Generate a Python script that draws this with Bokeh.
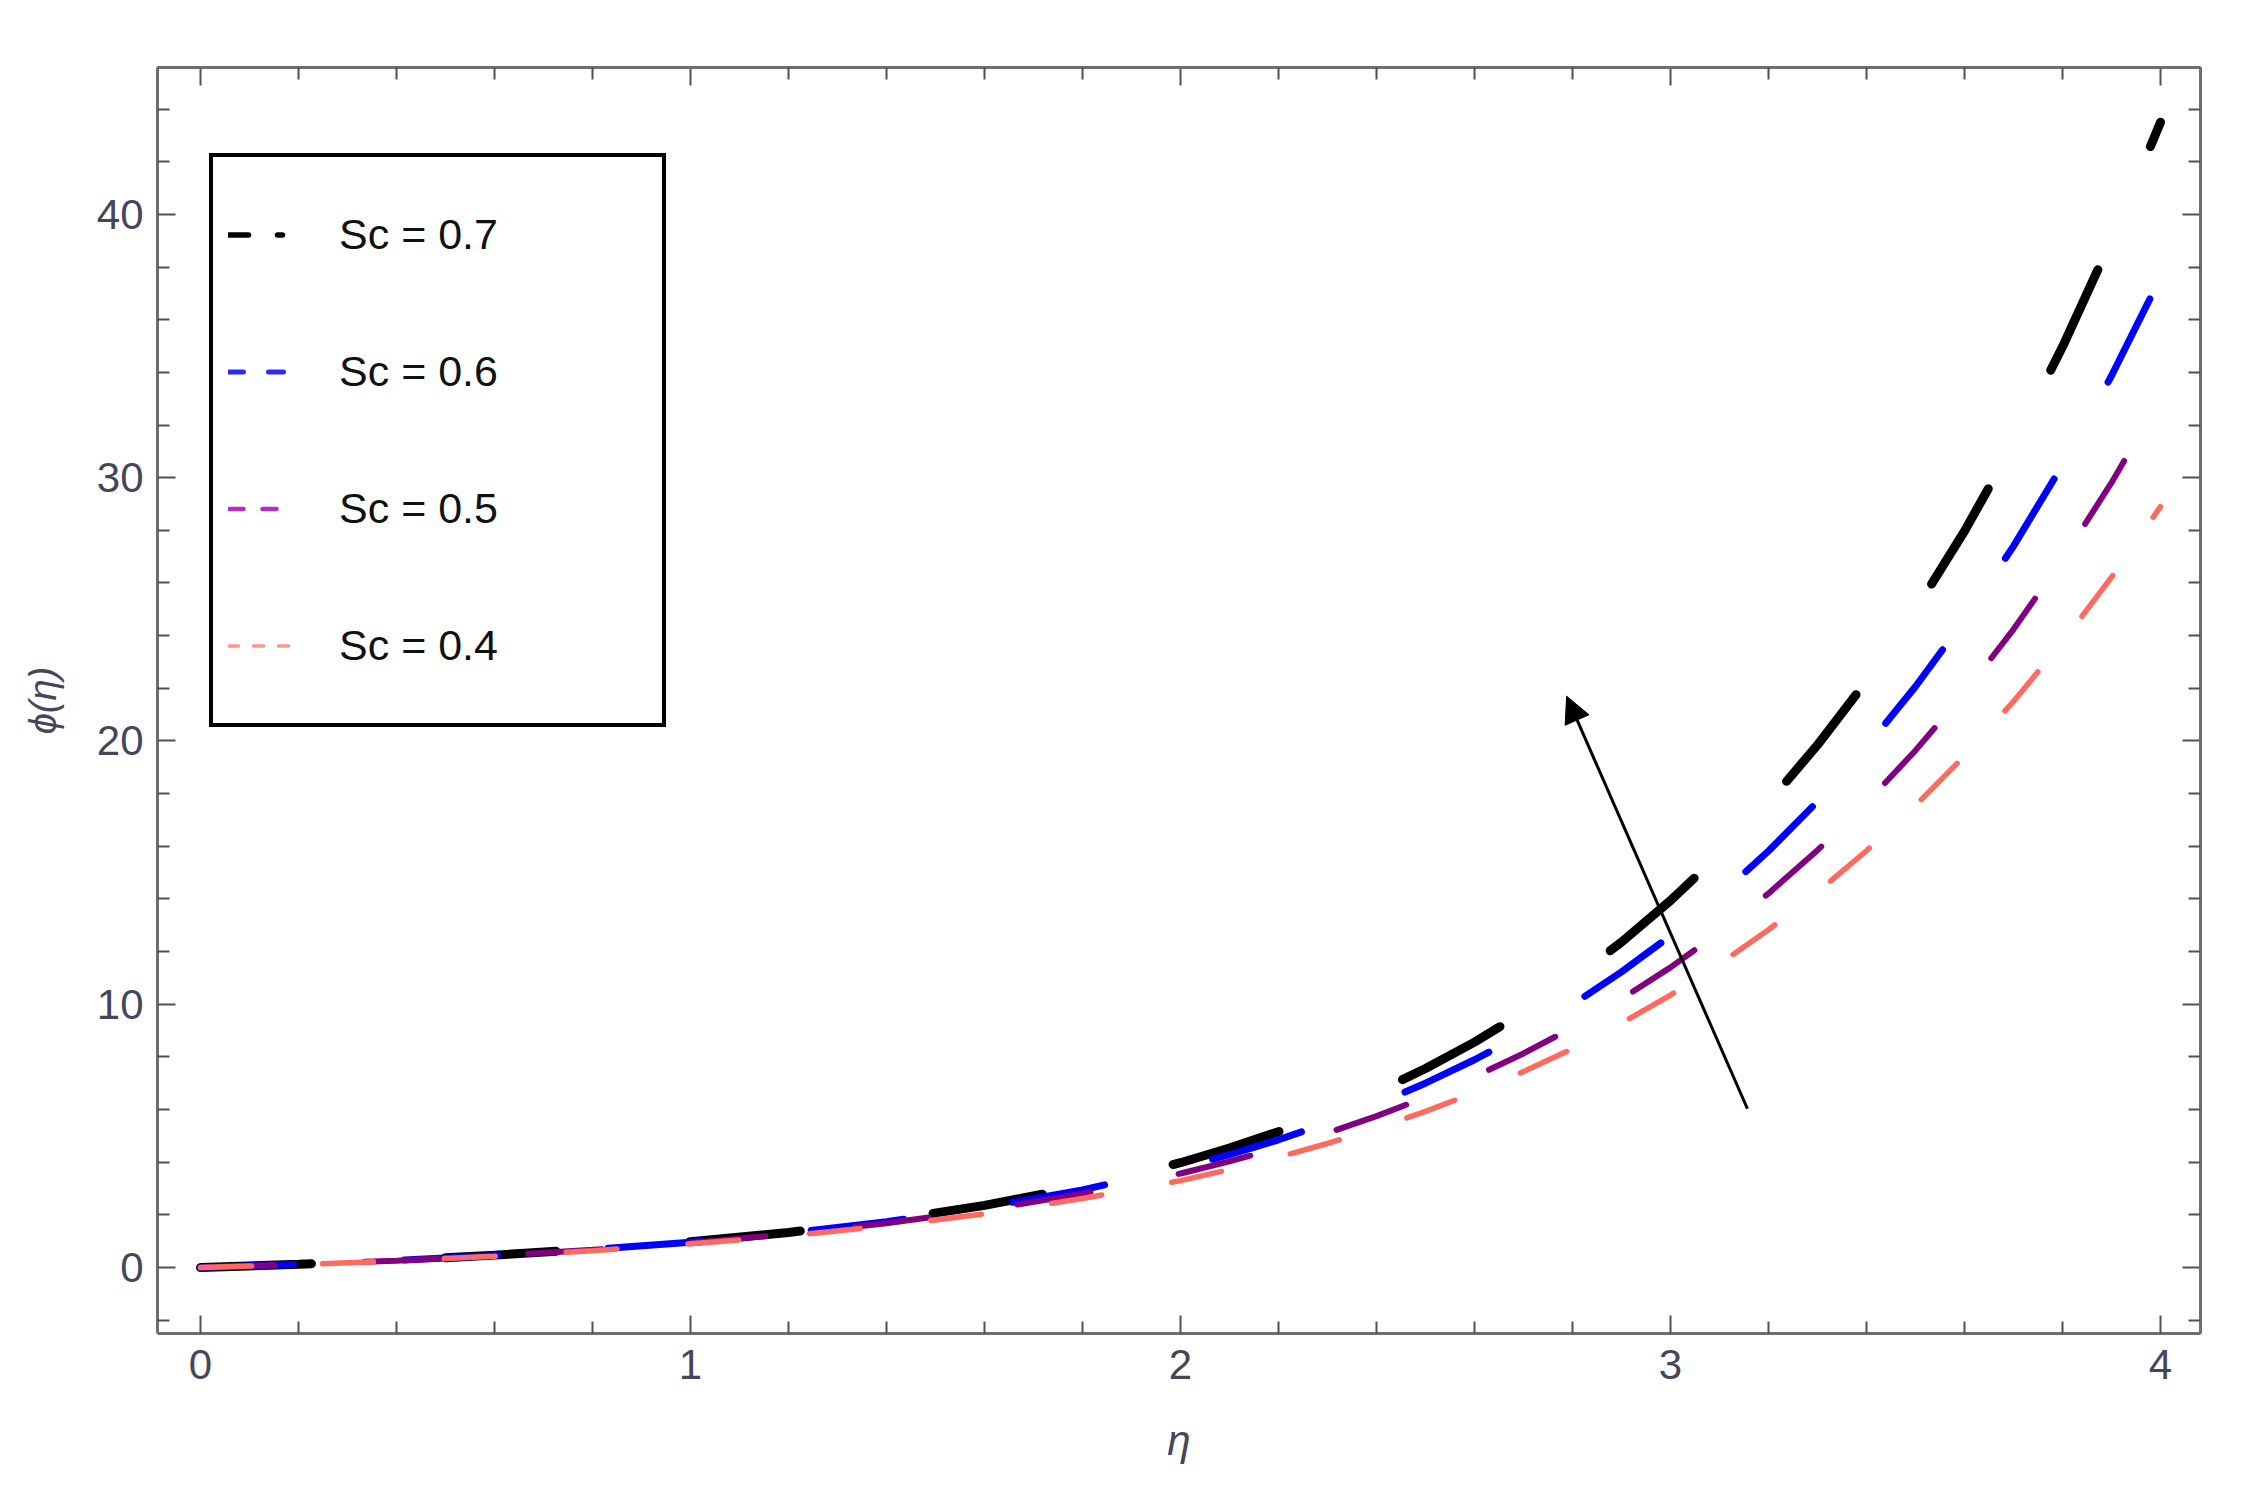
from bokeh.plotting import figure
from bokeh.models import Range1d, LinearAxis, FixedTicker, Legend, LegendItem, Arrow, NormalHead
from bokeh.embed import file_html
from bokeh.resources import INLINE

# ---- data ----
eta = [0.0, 0.2, 0.4, 0.6, 0.8, 1.0, 1.2, 1.4, 1.6, 1.8,
       2.0, 2.1, 2.2, 2.3, 2.4, 2.5, 2.6, 2.7, 2.8, 2.9,
       3.0, 3.1, 3.2, 3.3, 3.4, 3.5, 3.6, 3.7, 3.8, 3.9, 4.0]
phi_sc07 = [0.0, 0.12, 0.27, 0.47, 0.70, 0.98, 1.33, 1.78, 2.36, 3.08,
            3.98, 4.54, 5.16, 5.87, 6.66, 7.56, 8.56, 9.69, 10.95, 12.36,
            13.94, 15.70, 17.66, 19.85, 22.28, 24.98, 27.97, 31.29, 34.97, 39.03, 43.50]
phi_sc06 = [0.0, 0.12, 0.27, 0.46, 0.69, 0.96, 1.31, 1.74, 2.28, 2.95,
            3.78, 4.29, 4.85, 5.49, 6.20, 7.00, 7.89, 8.89, 9.99, 11.23,
            12.60, 14.13, 15.82, 17.70, 19.77, 22.07, 24.60, 27.40, 30.48, 33.87, 37.60]
phi_sc05 = [0.0, 0.12, 0.26, 0.45, 0.67, 0.93, 1.27, 1.68, 2.19, 2.80,
            3.57, 4.03, 4.54, 5.11, 5.75, 6.46, 7.25, 8.13, 9.11, 10.20,
            11.40, 12.74, 14.21, 15.85, 17.65, 19.64, 21.83, 24.24, 26.90, 29.81, 33.01]
phi_sc04 = [0.0, 0.11, 0.25, 0.43, 0.64, 0.90, 1.20, 1.58, 2.04, 2.62,
            3.30, 3.72, 4.19, 4.71, 5.29, 5.93, 6.64, 7.44, 8.31, 9.28,
            10.35, 11.53, 12.83, 14.26, 15.83, 17.55, 19.43, 21.50, 23.76, 26.22, 28.90]
series_labels = ["Sc = 0.7", "Sc = 0.6", "Sc = 0.5", "Sc = 0.4"]
x_major_ticks = [0, 1, 2, 3, 4]
x_minor_ticks = [0.2, 0.4, 0.6, 0.8, 1.2, 1.4, 1.6, 1.8, 2.2, 2.4, 2.6, 2.8,
                 3.2, 3.4, 3.6, 3.8]
y_major_ticks = [0, 10, 20, 30, 40]
y_minor_ticks = [-2, 2, 4, 6, 8, 12, 14, 16, 18, 22, 24, 26, 28,
                 32, 34, 36, 38, 42, 44]
arrow_eta = [3.157, 2.788]   # tail, head
arrow_phi = [6.03, 21.7]

# ---- styles ----
series = [phi_sc07, phi_sc06, phi_sc05, phi_sc04]
colors = ["#000000", "#0000ff", "#800080", "#ff6a60"]
widths = [9, 7, 6, 5.5]
dashes = ["111 134", "93 111", "74 90", "51 71"]
leg_colors = ["#000000", "#2a2aff", "#b030c0", "#ff9494"]
leg_widths = [5.5, 5, 4.5, 3.5]
leg_dashes = ["20 29 5 200", "15 25", "15 19 14 200", "10 15"]

TICK_FONT = "Liberation Sans"
TICK_COLOR = "#46465a"
FRAME_COLOR = "#6e6e6e"
TICK_LINE = "#505050"
nan = float("nan")

p = figure(width=2238, height=1483,
           x_range=Range1d(-0.0878, 4.0816), y_range=Range1d(-2.507, 45.58),
           output_backend="svg", toolbar_location=None,
           min_border_left=157, min_border_right=38,
           min_border_top=67, min_border_bottom=150,
           x_axis_label="η", y_axis_label="ϕ(η)")
p.grid.visible = False
p.outline_line_color = None
p.background_fill_color = "white"
p.border_fill_color = "white"


def style_axis(ax):
    ax.axis_line_color = FRAME_COLOR
    ax.axis_line_width = 3
    ax.major_tick_in = 18
    ax.major_tick_out = 0
    ax.minor_tick_in = 12
    ax.minor_tick_out = 0
    ax.major_tick_line_color = TICK_LINE
    ax.major_tick_line_width = 2
    ax.minor_tick_line_color = TICK_LINE
    ax.minor_tick_line_width = 2
    ax.major_label_text_font = TICK_FONT
    ax.major_label_text_font_size = "42px"
    ax.major_label_text_color = TICK_COLOR
    ax.axis_label_text_font = "Liberation Sans"
    ax.axis_label_text_font_style = "italic"
    ax.axis_label_text_color = TICK_COLOR


xa = p.xaxis[0]
ya = p.yaxis[0]
xa.ticker = FixedTicker(ticks=x_major_ticks, minor_ticks=x_minor_ticks)
ya.ticker = FixedTicker(ticks=y_major_ticks, minor_ticks=y_minor_ticks)
style_axis(xa)
style_axis(ya)
xa.major_label_standoff = 16
ya.major_label_standoff = 14
xa.axis_label_text_font_size = "42px"
ya.axis_label_text_font_size = "38px"
xa.axis_label_standoff = 35
ya.axis_label_standoff = 30

# frame ticks on the top and right sides (no labels): one axis for the
# long ticks at major positions, one for the short ones
for loc, majors, minors in (("above", x_major_ticks, x_minor_ticks),
                            ("right", y_major_ticks, y_minor_ticks)):
    for positions, length in ((majors, 18), (minors, 12)):
        ax = LinearAxis(ticker=FixedTicker(ticks=[], minor_ticks=positions))
        ax.axis_line_color = FRAME_COLOR
        ax.axis_line_width = 3
        ax.major_tick_in = 0
        ax.major_tick_out = 0
        ax.minor_tick_in = length
        ax.minor_tick_out = 0
        ax.minor_tick_line_color = TICK_LINE
        ax.minor_tick_line_width = 2
        ax.major_label_standoff = 0
        p.add_layout(ax, loc)

# curves
for vals, c, w, d in zip(series, colors, widths, dashes):
    p.line(eta, vals, line_color=c, line_width=w, line_dash=d, line_cap="round")

# legend sample glyphs (styled like the reference's legend swatches)
items = []
for lab, c, w, d in zip(series_labels, leg_colors, leg_widths, leg_dashes):
    r = p.line(x=[nan], y=[nan], line_color=c, line_width=w, line_dash=d, line_cap="round")
    items.append(LegendItem(label=lab, renderers=[r]))

legend = Legend(items=items, location=(52, 606), padding=15, spacing=12,
                glyph_width=62, glyph_height=125, label_height=125,
                label_width=308, label_standoff=49,
                border_line_color="black", border_line_width=4, border_line_alpha=1.0,
                background_fill_color="white", background_fill_alpha=1.0,
                label_text_font=TICK_FONT, label_text_font_size="43px",
                label_text_color="#111111")
p.add_layout(legend)

p.add_layout(Arrow(x_start=arrow_eta[0], y_start=arrow_phi[0],
                   x_end=arrow_eta[1], y_end=arrow_phi[1],
                   line_color="black", line_width=3,
                   end=NormalHead(size=26, fill_color="black", fill_alpha=1.0,
                                  line_color="black", line_width=1)))

open("out.html", "w").write(file_html(p, INLINE))
